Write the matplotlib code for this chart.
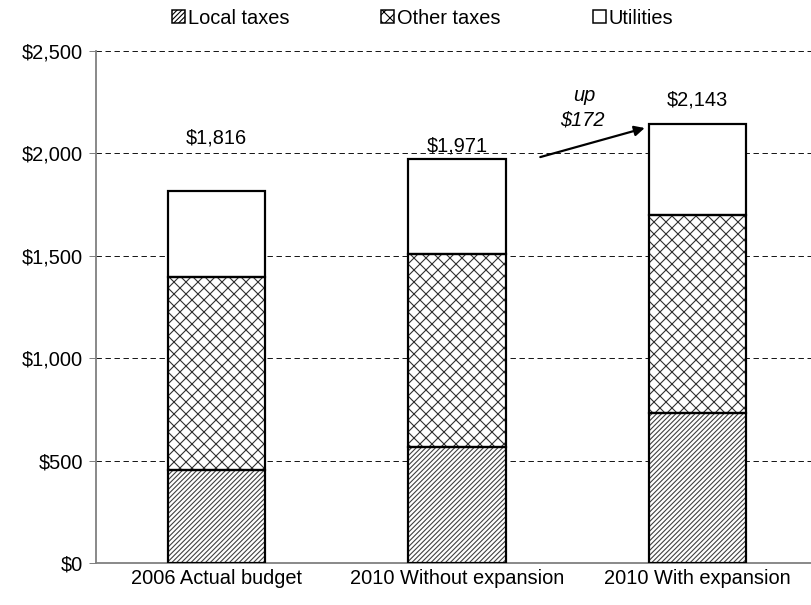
import matplotlib.pyplot as plt
from matplotlib.patches import Patch
from matplotlib.ticker import FuncFormatter
import numpy as np

# stacked components per scenario
scenarios = ['2006 Actual budget', '2010 Without expansion', '2010 With expansion']
local_taxes = [455, 565, 730]
other_taxes = [941, 944, 970]
utilities = [420, 462, 443]
totals = [1816, 1971, 2143]
total_labels = ['$1,816', '$1,971', '$2,143']
label_heights = [2075, 2038, 2261]
increase = 172

plt.rcParams['font.family'] = ['Liberation Sans', 'DejaVu Sans']
plt.rcParams['hatch.linewidth'] = 1.1

DPI = 72
fig = plt.figure(figsize=(811 / DPI, 605 / DPI), dpi=DPI)
ax = fig.add_axes([96 / 811, 42 / 605, 722 / 811, 512 / 605])

x = np.arange(len(scenarios))
width = 0.405
FS = 20

segments = [
    (local_taxes, '/////', '#404040', 'Local taxes'),
    (other_taxes, 'xx', '#303030', 'Other taxes'),
    (utilities, '', 'black', 'Utilities'),
]

bottom = np.zeros(len(x))
handles = []
for vals, hatch, hcol, name in segments:
    vals = np.array(vals, dtype=float)
    # hatch fill first, then a clean black outline on top
    ax.bar(x, vals, width, bottom=bottom, color='white', hatch=hatch,
           edgecolor=hcol, linewidth=0, zorder=2)
    ax.bar(x, vals, width, bottom=bottom, fill=False,
           edgecolor='black', linewidth=2.2, zorder=3)
    handles.append(Patch(facecolor='white', hatch=hatch, edgecolor='black',
                         linewidth=1.5, label=name))
    bottom += vals

# total labels above bars
for xi, lab, h in zip(x, total_labels, label_heights):
    ax.text(xi, h, lab, ha='center', va='center', fontsize=FS)

# increase annotation between the two 2010 scenarios
ax.annotate('', xy=(1.78, 2124), xytext=(1.346, 1982),
            arrowprops=dict(arrowstyle='-|>', color='black', lw=2.2,
                            mutation_scale=21, shrinkA=0, shrinkB=0),
            zorder=4)
ax.text(1.53, 2285, 'up', ha='center', va='center', fontsize=FS,
        style='italic')
ax.text(1.52, 2163, f'${increase}', ha='center', va='center',
        fontsize=FS, style='italic')

# axes
ax.set_xlim(-0.5, 2.5)
ax.set_ylim(0, 2500)
ax.set_yticks(np.arange(0, 2501, 500))
ax.yaxis.set_major_formatter(FuncFormatter(lambda v, p: f'${v:,.0f}'))
ax.set_xticks(x)
ax.set_xticklabels(scenarios)
ax.tick_params(axis='x', length=0, pad=6, labelsize=FS)
ax.tick_params(axis='y', length=7, width=1, color='#808080',
               direction='out', pad=6, labelsize=FS)
ax.grid(axis='y', linestyle=(0, (6, 4)), color='black', linewidth=0.9,
        zorder=0)
ax.set_axisbelow(True)
for side in ['top', 'right']:
    ax.spines[side].set_visible(False)
for side in ['left', 'bottom']:
    ax.spines[side].set_color('#808080')
    ax.spines[side].set_linewidth(1.8)

ax.legend(handles=handles, loc='center', ncol=3,
          bbox_to_anchor=(0.452, 1 + 33 / 512), frameon=False, fontsize=FS,
          handlelength=0.65, handleheight=0.65, handletextpad=0.15,
          columnspacing=4.6, borderaxespad=0, borderpad=0)

fig.savefig('out.png', dpi=DPI)
